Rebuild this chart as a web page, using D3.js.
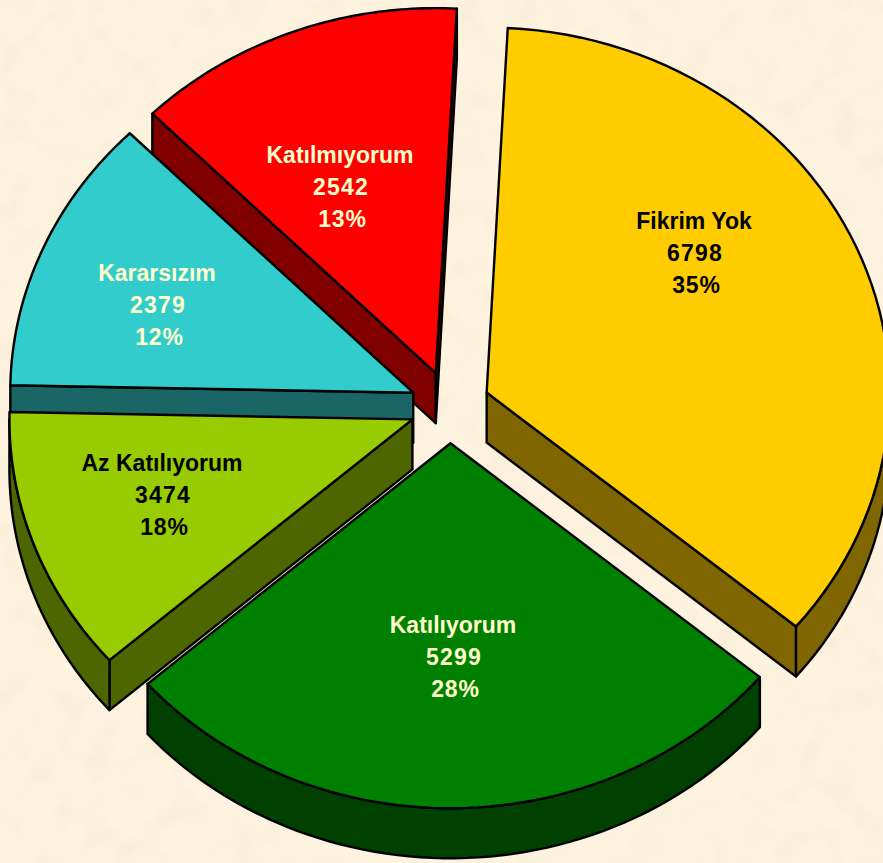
<!DOCTYPE html>
<html><head><meta charset="utf-8">
<script src="https://cdn.jsdelivr.net/npm/d3@7"></script>
<style>html,body{margin:0;padding:0;background:#FDF3DF;overflow:hidden}svg{display:block}</style>
</head><body><svg id="c" width="883" height="863"></svg>
<script>
// Printed labels
const categories = ["Fikrim Yok","Katılıyorum","Az Katılıyorum","Kararsızım","Katılmıyorum"];
const printedValues = [6798,5299,3474,2379,2542];
const printedPercents = ["35%","28%","18%","12%","13%"];
// Slice sizes as drawn in the picture (the Az Katılıyorum wedge is narrower than its printed value)
const drawnValues = [6798,5299,2274,2365,2556];
const topColors = ["#FFCC00","#008000","#99CC00","#33CCCC","#FF0000"];
const sideColors = ["#806600","#004000","#4D6600","#1A6666","#800000"];
const labelColors = ["#000000","#FFFFCC","#000000","#FFFFCC","#FFFFCC"];
const labelCentres = [[694,253],[453,657],[162,495],[157,305],[340,187]];
const drawOrder = [4,3,2,0,1];

const W=883,H=863,cx=450,cy=407,rx=403,ry=365,depth=50,explode=40;
const svg=d3.select("#c");
const defs=svg.append("defs");
const f=defs.append("filter").attr("id","paper").attr("x",0).attr("y",0).attr("width","100%").attr("height","100%");
f.append("feTurbulence").attr("type","fractalNoise").attr("baseFrequency",0.035).attr("numOctaves",3).attr("seed",7);
f.append("feColorMatrix").attr("type","matrix").attr("values","0 0 0 0 0.86  0 0 0 0 0.78  0 0 0 0 0.58  1.1 0 0 0 -0.43");
svg.append("rect").attr("width",W).attr("height",H).attr("fill","#FDF3DF");
svg.append("rect").attr("width",W).attr("height",H).attr("filter","url(#paper)").attr("opacity",0.55);

const sx=d3.scaleLinear().domain([-1,1]).range([-rx,rx]);
const sy=d3.scaleLinear().domain([-1,1]).range([ry,-ry]);
const pie=d3.pie().sort(null).startAngle(3.0*Math.PI/180).endAngle((360+3.0)*Math.PI/180);
const arcs=pie(drawnValues);
const line=d3.line();
const pt=(a,o,z=0)=>[o[0]+sx(Math.sin(a)),o[1]+sy(Math.cos(a))+z];
const sample=(a0,a1)=>d3.range(0,61).map(i=>a0+(a1-a0)*i/60);

drawOrder.forEach(i=>{
  const d=arcs[i], mid=(d.startAngle+d.endAngle)/2;
  const o=[cx+explode*Math.sin(mid), cy-explode*(ry/rx)*Math.cos(mid)];
  const g=svg.append("g");
  const stroke=s=>s.attr("stroke","#000").attr("stroke-width",2.4).attr("stroke-linejoin","round");
  // radial walls that face the viewer
  const walls=[];
  if(Math.sin(d.startAngle)<0) walls.push(d.startAngle);
  if(Math.sin(d.endAngle)>0) walls.push(d.endAngle);
  walls.forEach(a=>{
    const p=pt(a,o);
    stroke(g.append("path")).attr("fill",sideColors[i])
      .attr("d",line([o,p,[p[0],p[1]+depth],[o[0],o[1]+depth]])+"Z");
  });
  // outer wall: visible on the front half only
  const a0=Math.max(d.startAngle,Math.PI/2), a1=Math.min(d.endAngle,3*Math.PI/2);
  if(a1>a0){
    const rim=sample(a0,a1);
    const poly=rim.map(a=>pt(a,o)).concat(rim.slice().reverse().map(a=>pt(a,o,depth)));
    stroke(g.append("path")).attr("fill",sideColors[i]).attr("d",line(poly)+"Z");
  }
  // top face
  const top=[o].concat(sample(d.startAngle,d.endAngle).map(a=>pt(a,o)));
  stroke(g.append("path")).attr("fill",topColors[i]).attr("d",line(top)+"Z");
});

categories.forEach((c,i)=>{
  const t=svg.append("text").attr("text-anchor","middle")
    .attr("font-family","'Liberation Sans',Arial,sans-serif").attr("font-weight",700)
    .attr("font-size",23).attr("fill",labelColors[i]);
  const x=labelCentres[i][0], y=labelCentres[i][1];
  t.append("tspan").attr("x",x).attr("y",y-24).text(c);
  t.append("tspan").attr("x",x+1).attr("y",y+8).attr("letter-spacing",1.2).text(String(printedValues[i]));
  t.append("tspan").attr("x",x+2.5).attr("y",y+40).attr("letter-spacing",0.8).text(printedPercents[i]);
});
</script></body></html>
